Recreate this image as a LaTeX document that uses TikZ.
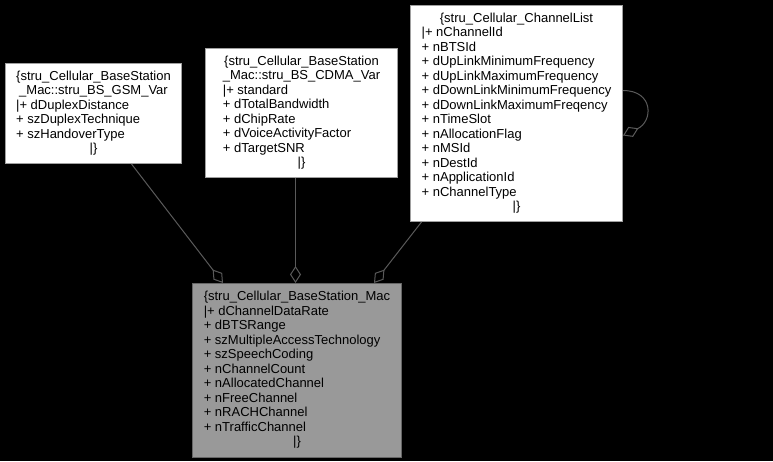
\documentclass[tikz,border=0pt]{standalone}
\usepackage{fontspec}
\setmainfont{Liberation Sans}
\usetikzlibrary{arrows.meta}
\definecolor{bgcol}{HTML}{000000}
\definecolor{classfill}{HTML}{FFFFFF}
\definecolor{mainfill}{HTML}{999999}
\definecolor{classedge}{HTML}{A0A0A0}
\definecolor{mainedge}{HTML}{666666}
\definecolor{linkcol}{HTML}{5A5A5A}
\newcommand{\hdr}[1]{\multicolumn{1}{@{}c@{}}{#1}}
\tikzset{
    every node/.style={font=\fontsize{13}{14.5}\selectfont},
    umlclass/.style={
        rectangle, draw=classedge, line width=1pt, fill=classfill,
        inner sep=0pt, anchor=north west, align=center,
    },
    mainclass/.style={
        umlclass, draw=mainedge, fill=mainfill,
    },
    aggr/.style={{Diamond[open, length=17pt, width=11pt]}-, linkcol, line width=1pt},
}

\begin{document}
\begin{tikzpicture}[x=1pt, y=-1pt]

% ── Canvas ─────────────────────────────────────────────────────────
\fill[bgcol] (0,0) rectangle (773,461);
\useasboundingbox (0,0) rectangle (773,461);

% ── Classes ────────────────────────────────────────────────────────
\node[umlclass, minimum width=176pt, minimum height=100pt] (gsm) at (5,63) {%
    \begin{tabular}{@{}l@{}}
    \hdr{\{stru\_Cellular\_BaseStation}\\
    \hdr{\_Mac::stru\_BS\_GSM\_Var}\\
    |+ dDuplexDistance\\
    + szDuplexTechnique\\
    + szHandoverType\\
    \hdr{|\}}
    \end{tabular}};

\node[umlclass, minimum width=192pt, minimum height=129pt] (cdma) at (205,48) {%
    \begin{tabular}{@{}l@{}}
    \hdr{\{stru\_Cellular\_BaseStation}\\
    \hdr{\_Mac::stru\_BS\_CDMA\_Var}\\
    |+ standard\\
    + dTotalBandwidth\\
    + dChipRate\\
    + dVoiceActivityFactor\\
    + dTargetSNR\\
    \hdr{|\}}
    \end{tabular}};

\node[umlclass, minimum width=212pt, minimum height=216pt] (chlist) at (410,5) {%
    \begin{tabular}{@{}l@{}}
    \hdr{\{stru\_Cellular\_ChannelList}\\
    |+ nChannelId\\
    + nBTSId\\
    + dUpLinkMinimumFrequency\\
    + dUpLinkMaximumFrequency\\
    + dDownLinkMinimumFrequency\\
    + dDownLinkMaximumFreqency\\
    + nTimeSlot\\
    + nAllocationFlag\\
    + nMSId\\
    + nDestId\\
    + nApplicationId\\
    + nChannelType\\
    \hdr{|\}}
    \end{tabular}};

\node[mainclass, minimum width=209pt, minimum height=174pt] (bsmac) at (192,283) {%
    \begin{tabular}{@{}l@{}}
    \hdr{\{stru\_Cellular\_BaseStation\_Mac}\\
    |+ dChannelDataRate\\
    + dBTSRange\\
    + szMultipleAccessTechnology\\
    + szSpeechCoding\\
    + nChannelCount\\
    + nAllocatedChannel\\
    + nFreeChannel\\
    + nRACHChannel\\
    + nTrafficChannel\\
    \hdr{|\}}
    \end{tabular}};

% ── Aggregations ───────────────────────────────────────────────────
\draw[aggr] ([xshift=-74pt]bsmac.north) -- ([xshift=38pt]gsm.south);
\draw[aggr] ([xshift=-1.5pt]bsmac.north) -- ([xshift=-6pt]cdma.south);
\draw[aggr] ([xshift=77pt]bsmac.north) -- ([xshift=-95pt]chlist.south);

% ── Self loop ──────────────────────────────────────────────────────
\draw[aggr] ([yshift=-22pt]chlist.east) .. controls +(30,-14) and +(31,0)
    .. ([yshift=23pt]chlist.east);

\end{tikzpicture}
\end{document}
